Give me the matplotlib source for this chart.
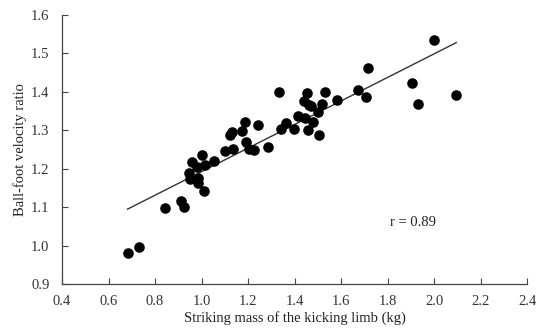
import numpy as np
import matplotlib
matplotlib.use('Agg')
import matplotlib.pyplot as plt

# ── Données ──────────────────────────────────────────────
mass = [0.682, 0.731, 0.844, 0.910, 0.925, 1.012, 0.945, 0.951, 0.984, 0.983,
        0.959, 0.979, 1.004, 1.017, 1.052, 1.101, 1.134, 1.124, 1.130, 1.173,
        1.187, 1.190, 1.203, 1.227, 1.244, 1.286, 1.333, 1.342, 1.365, 1.399,
        1.416, 2.000, 1.717, 1.907, 2.095, 1.932, 1.674, 1.706, 1.581, 1.531,
        1.520, 1.452, 1.442, 1.471, 1.500, 1.445, 1.478, 1.457, 1.504, 1.464]
ratio = [0.982, 0.998, 1.098, 1.116, 1.102, 1.142, 1.188, 1.173, 1.175, 1.164,
         1.218, 1.205, 1.237, 1.211, 1.220, 1.247, 1.251, 1.287, 1.296, 1.298,
         1.322, 1.270, 1.251, 1.250, 1.313, 1.258, 1.401, 1.303, 1.318, 1.303,
         1.337, 1.535, 1.461, 1.424, 1.391, 1.368, 1.406, 1.386, 1.379, 1.399,
         1.368, 1.396, 1.376, 1.363, 1.348, 1.331, 1.322, 1.301, 1.288, 1.366]
r_label = "r = 0.89"
xticks = [0.4, 0.6, 0.8, 1.0, 1.2, 1.4, 1.6, 1.8, 2.0, 2.2, 2.4]
yticks = [0.9, 1.0, 1.1, 1.2, 1.3, 1.4, 1.5, 1.6]

plt.rcParams['font.family'] = ['Liberation Serif', 'DejaVu Serif']

fig = plt.figure(figsize=(5.39, 3.34), dpi=100)
ax = fig.add_axes([0.115, 0.149, 0.863, 0.806])

ax.scatter(mass, ratio, s=58, color='black', zorder=3, linewidths=0)

# droite de régression
x = np.array(mass)
a, b = np.polyfit(x, np.array(ratio), 1)
xs = np.array([x.min(), x.max()])
ax.plot(xs, a * xs + b, color='#333333', lw=1.0, zorder=2)

ax.text(1.91, 1.06, r_label, ha='center', va='center', fontsize=10.5,
        color='#222222')

ax.set_xlim(0.4, 2.4)
ax.set_ylim(0.9, 1.6)
ax.set_xticks(xticks)
ax.set_yticks(yticks)
ax.set_xticklabels([f"{v:.1f}" for v in xticks])
ax.set_yticklabels([f"{v:.1f}" for v in yticks])
ax.tick_params(direction='in', length=4, width=0.8, color='#444444',
               labelsize=10.5, labelcolor='#333333')
ax.tick_params(axis='x', pad=8)
ax.tick_params(axis='y', pad=9)
for side in ['top', 'right']:
    ax.spines[side].set_visible(False)
for side in ['left', 'bottom']:
    ax.spines[side].set_color('#444444')
    ax.spines[side].set_linewidth(0.9)

ax.set_xlabel("Striking mass of the kicking limb (kg)", fontsize=10.5,
              labelpad=2, color='#222222')
ax.set_ylabel("Ball-foot velocity ratio", fontsize=10.5, labelpad=3,
              color='#222222')

plt.savefig("out.png", dpi=100)
plt.close()
